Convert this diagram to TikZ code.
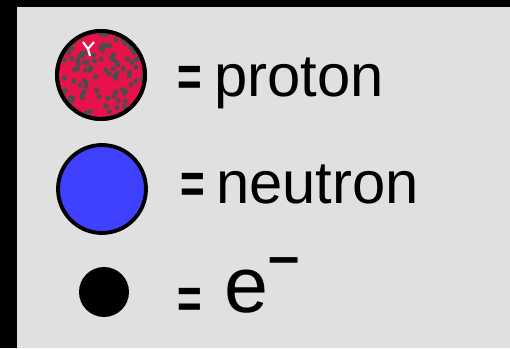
\documentclass[tikz,border=0pt]{standalone}
\usepackage{fontspec}
\setmainfont{Liberation Sans}
\usetikzlibrary{positioning}
\definecolor{panelgray}{RGB}{224,224,224}
\definecolor{protonred}{RGB}{232,18,74}
\definecolor{neutronblue}{RGB}{64,64,255}

\begin{document}
\begin{tikzpicture}[x=0.02cm, y=0.02cm,
  particle/.style={circle, draw=black, line width=2.2pt, inner sep=0pt},
  eqsign/.style={font=\fontsize{30}{36}\selectfont\bfseries, inner sep=0pt, anchor=base west},
  wordlabel/.style={font=\fontsize{34}{40}\selectfont, inner sep=0pt, anchor=base west}
]
  \useasboundingbox (0,0) rectangle (510,348);
  \fill[black] (0,0) rectangle (510,348);
  \fill[panelgray] (17,0) rectangle (510,341);

  % particles
  \node[particle, fill=protonred, minimum size=1.76cm] (proton) at (101,273) {};
  \node[particle, fill=neutronblue, minimum size=1.76cm] (neutron) at (102,159) {};
  \node[circle, fill=black, inner sep=0pt, minimum size=1.0cm] (electron) at (104,56) {};

  % speckles on the proton
  \pgfmathsetseed{42}
  \begin{scope}
    \clip (proton.center) circle (43);
    \foreach \k in {1,...,95} {
      \pgfmathsetmacro{\ang}{360*rnd}
      \pgfmathsetmacro{\rad}{43*sqrt(rnd)}
      \fill[black!70, shift={(proton.center)}] (\ang:\rad) circle (2.6);
    }
  \end{scope}
  \draw[white, line width=1.2pt] (83,306) -- (88,299) -- (94,306) (88,299) -- (90,292);
  \draw[black, line width=2.2pt] (proton.center) circle (44);

  % labels
  \node[eqsign] (eqp) at (177,251) {\scalebox{0.8}[1.1]{=}};
  \node[wordlabel] (txtp) at (214,251) {proton};
  \node[eqsign] (eqn) at (180,144) {\scalebox{0.8}[1.1]{=}};
  \node[wordlabel] (txtn) at (216,144) {neutron};
  \node[eqsign] (eqe) at (177,30) {\scalebox{0.8}[1.1]{=}};
  \node[font=\fontsize{45}{50}\selectfont, inner sep=0pt, anchor=base west] (txte) at (224,35)
    {e\raisebox{21.5pt}{\fontsize{32}{38}\selectfont\bfseries --}};
\end{tikzpicture}
\end{document}
